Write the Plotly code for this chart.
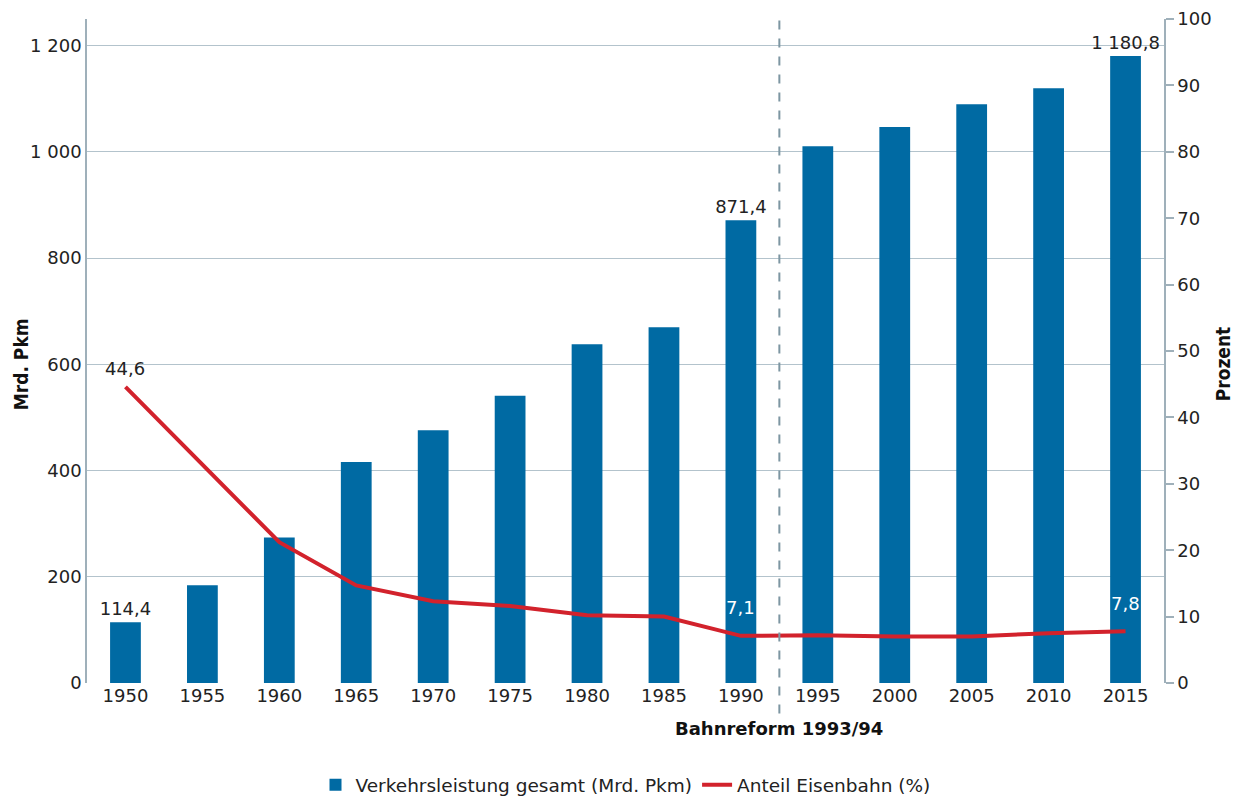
import plotly.graph_objects as go

years = ["1950", "1955", "1960", "1965", "1970", "1975", "1980",
         "1985", "1990", "1995", "2000", "2005", "2010", "2015"]
verkehrsleistung = [114.4, 184, 274, 416, 476, 541, 638,
                    670, 871.4, 1011, 1047, 1090, 1120, 1180.8]
anteil_bahn = [44.6, 33.0, 21.2, 14.7, 12.3, 11.6, 10.2,
               10.0, 7.1, 7.2, 7.0, 7.0, 7.5, 7.8]
bar_labeled = [True, False, False, False, False, False, False,
               False, True, False, False, False, False, True]
line_labeled = [True, False, False, False, False, False, False,
                False, True, False, False, False, False, True]

left_ticks = [0, 200, 400, 600, 800, 1000, 1200]
right_ticks = list(range(0, 101, 10))

FONT = "DejaVu Sans"
BAR = "#006AA3"
RED = "#D2222C"
AX = "#9fb0ba"
FS = 18

fig = go.Figure()
fig.add_trace(go.Bar(
    x=years, y=verkehrsleistung, name="Verkehrsleistung gesamt (Mrd. Pkm)",
    marker=dict(color=BAR, line=dict(width=0)), width=0.4,
    texttemplate=["%{y:,.1f}" if f else "" for f in bar_labeled],
    textposition="outside", cliponaxis=False, constraintext="none",
    textfont=dict(family=FONT, size=FS, color="#222222"),
))
fig.add_trace(go.Scatter(
    x=years, y=anteil_bahn, yaxis="y2", name="Anteil Eisenbahn (%)",
    mode="lines", line=dict(color=RED, width=4),
))

# line data labels
for i, (v, f) in enumerate(zip(anteil_bahn, line_labeled)):
    if not f:
        continue
    white = v < 20
    fig.add_annotation(xref="x", yref="y2", x=i, y=v, yshift=28 if white else 18,
                       text=f"{v:.1f}".replace(".", ","), showarrow=False,
                       font=dict(family=FONT, size=FS, color="#ffffff" if white else "#222222"))

fig.add_shape(type="line", xref="x", yref="paper", x0=8.5, x1=8.5,
              y0=-0.046, y1=1.005, line=dict(color="#7d96a2", width=2, dash="dash"))
fig.add_annotation(xref="x", yref="paper", x=8.5, y=-0.088, text="<b>Bahnreform 1993/94</b>",
                   showarrow=False, font=dict(family=FONT, size=FS, color="#111111"))
fig.add_annotation(xref="paper", yref="paper", x=-0.0613, y=0.48, text="<b>Mrd. Pkm</b>",
                   textangle=-90, showarrow=False, xanchor="center", yanchor="middle",
                   font=dict(family="DejaVu Sans Condensed", size=19, color="#111111"))
fig.add_annotation(xref="paper", yref="paper", x=1.0548, y=0.48, text="<b>Prozent</b>",
                   textangle=-90, showarrow=False, xanchor="center", yanchor="middle",
                   font=dict(family="DejaVu Sans Condensed", size=19, color="#111111"))

fig.update_layout(
    width=1240, height=807,
    margin=dict(l=79, r=84, t=11, b=126),
    paper_bgcolor="white", plot_bgcolor="white",
    separators=", ",
    font=dict(family=FONT, size=FS, color="#222222"),
    showlegend=True,
    legend=dict(orientation="h", x=0.5, xanchor="center", y=-0.154, yanchor="middle",
                font=dict(family=FONT, size=18.5, color="#222222"),
                traceorder="normal"),
    xaxis=dict(type="category", range=[-0.5, len(years) - 0.5], showgrid=False,
               showline=False, ticks="", tickfont=dict(family=FONT, size=FS), automargin=False),
    yaxis=dict(range=[0, 1250.4], tickvals=left_ticks, tickformat=",d",
               showgrid=True, gridcolor="#b3c3cc", gridwidth=1.2,
               showline=True, linecolor=AX, linewidth=1.5, ticks="",
               zeroline=False, automargin=False, ticklabeloverflow="allow",
               tickfont=dict(family=FONT, size=FS)),
    yaxis2=dict(range=[0, 100], tickvals=right_ticks, overlaying="y", side="right",
                showgrid=False, showline=True, linecolor=AX, linewidth=1.5,
                ticks="outside", ticklen=8, tickcolor=AX, tickwidth=1.5, zeroline=False,
                automargin=False, ticklabeloverflow="allow",
                tickfont=dict(family=FONT, size=FS)),
    bargap=0.6,
)

fig.write_html("out.html")
